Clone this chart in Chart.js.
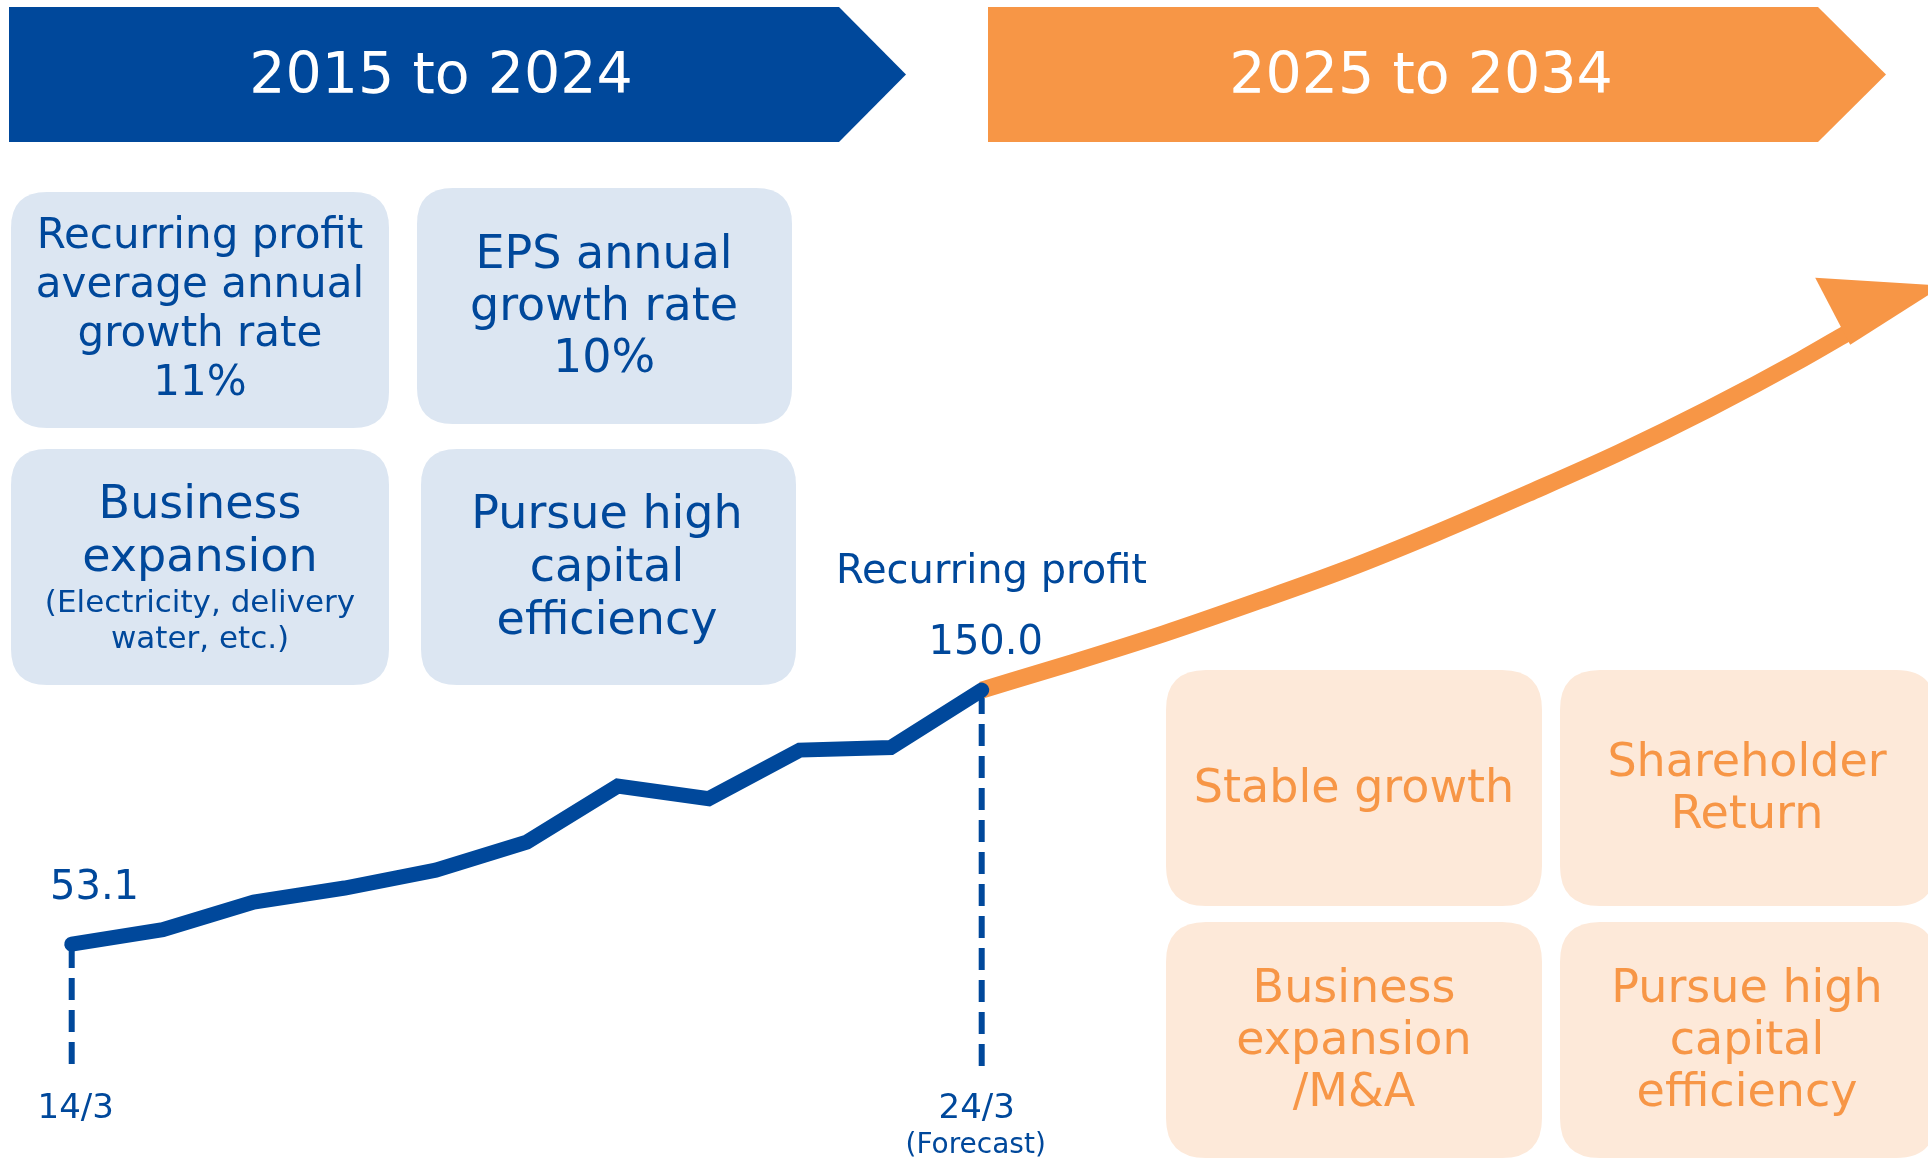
<!DOCTYPE html>
<html>
<head>
<meta charset="utf-8">
<script src="https://cdn.jsdelivr.net/npm/chart.js@4/dist/chart.umd.min.js"></script>
<style>
  html, body { margin: 0; padding: 0; background: #ffffff; }
  #wrap { width: 1928px; height: 1159px; position: relative; }
</style>
</head>
<body>
<div id="wrap"><canvas id="c" width="1928" height="1159"></canvas></div>
<script>
// ---- data ----
const fiscalYears = ['14/3', '15/3', '16/3', '17/3', '18/3', '19/3', '20/3', '21/3', '22/3', '23/3', '24/3'];
const recurringProfit = [53.1, 58.6, 69.1, 74.5, 81.3, 92.0, 113.4, 108.6, 127.1, 128.1, 150.0];
const outlookX = [10, 11, 12, 13, 14, 15, 16, 17, 18, 19, 19.5];
const outlookProfit = [150.0, 160.5, 171.5, 183.5, 196.0, 210.0, 225.0, 240.5, 257.5, 276.0, 286.0];
const periodLabels = ['2015 to 2024', '2025 to 2034'];
const pastBoxes = [
  ['Recurring profit', 'average annual', 'growth rate', '11%'],
  ['EPS annual', 'growth rate', '10%'],
  ['Business', 'expansion'],
  ['Pursue high', 'capital', 'efficiency']
];
const pastBoxNote = ['(Electricity, delivery', 'water, etc.)'];
const futureBoxes = [
  ['Stable growth'],
  ['Shareholder', 'Return'],
  ['Business', 'expansion', '/M&A'],
  ['Pursue high', 'capital', 'efficiency']
];
const seriesName = 'Recurring profit';
const forecastNote = '(Forecast)';

// ---- styles ----
const BLUE = '#00489B';
const ORANGE = '#F79646';
const BLUE_FILL = '#DCE6F2';
const ORANGE_FILL = '#FDE9D9';
const FONT = "'DejaVu Sans', Verdana, sans-serif";

function roundRect(ctx, x, y, w, h, r) {
  ctx.beginPath();
  ctx.moveTo(x + r, y);
  ctx.lineTo(x + w - r, y);
  ctx.quadraticCurveTo(x + w, y, x + w, y + r);
  ctx.lineTo(x + w, y + h - r);
  ctx.quadraticCurveTo(x + w, y + h, x + w - r, y + h);
  ctx.lineTo(x + r, y + h);
  ctx.quadraticCurveTo(x, y + h, x, y + h - r);
  ctx.lineTo(x, y + r);
  ctx.quadraticCurveTo(x, y, x + r, y);
  ctx.closePath();
}
function lines(ctx, arr, cx, yStart, step, size, color) {
  ctx.font = size + 'px ' + FONT;
  ctx.fillStyle = color;
  ctx.textAlign = 'center';
  ctx.textBaseline = 'middle';
  arr.forEach((t, i) => ctx.fillText(t, cx, yStart + i * step));
}
function chevron(ctx, x0, x1, tip, top, bottom, color) {
  ctx.beginPath();
  ctx.moveTo(x0, top);
  ctx.lineTo(x1, top);
  ctx.lineTo(tip, (top + bottom) / 2);
  ctx.lineTo(x1, bottom);
  ctx.lineTo(x0, bottom);
  ctx.closePath();
  ctx.fillStyle = color;
  ctx.fill();
}

const decor = {
  id: 'decor',
  beforeDatasetsDraw(chart) {
    const ctx = chart.ctx;
    const xs = chart.scales.x, ys = chart.scales.y;
    ctx.save();
    // banners
    chevron(ctx, 9, 839, 906, 7, 142, BLUE);
    chevron(ctx, 988, 1818, 1886, 7, 142, ORANGE);
    ctx.font = '57px ' + FONT;
    ctx.fillStyle = '#ffffff';
    ctx.textAlign = 'center';
    ctx.textBaseline = 'middle';
    ctx.fillText(periodLabels[0], 441, 78);
    ctx.fillText(periodLabels[1], 1421, 78);

    // past boxes
    ctx.fillStyle = BLUE_FILL;
    roundRect(ctx, 11, 192, 378, 236, 36); ctx.fill();
    roundRect(ctx, 417, 188, 375, 236, 36); ctx.fill();
    roundRect(ctx, 11, 449, 378, 236, 36); ctx.fill();
    roundRect(ctx, 421, 449, 375, 236, 36); ctx.fill();
    lines(ctx, pastBoxes[0], 200, 237, 49, 42, BLUE);
    lines(ctx, pastBoxes[1], 604, 256, 52, 46, BLUE);
    lines(ctx, pastBoxes[2], 200, 506, 53, 46, BLUE);
    lines(ctx, pastBoxNote, 200, 604, 36, 31, BLUE);
    lines(ctx, pastBoxes[3], 607, 516, 53, 46, BLUE);

    // future boxes
    ctx.fillStyle = ORANGE_FILL;
    roundRect(ctx, 1166, 670, 376, 236, 40); ctx.fill();
    roundRect(ctx, 1560, 670, 376, 236, 40); ctx.fill();
    roundRect(ctx, 1166, 922, 376, 236, 40); ctx.fill();
    roundRect(ctx, 1560, 922, 376, 236, 40); ctx.fill();
    lines(ctx, futureBoxes[0], 1354, 790, 52, 46, ORANGE);
    lines(ctx, futureBoxes[1], 1747, 764, 52, 46, ORANGE);
    lines(ctx, futureBoxes[2], 1354, 990, 52, 46, ORANGE);
    lines(ctx, futureBoxes[3], 1747, 990, 52, 46, ORANGE);

    // dashed drop lines
    const last = recurringProfit.length - 1;
    ctx.strokeStyle = BLUE;
    ctx.lineWidth = 6;
    ctx.setLineDash([22, 10]);
    [0, last].forEach(i => {
      const px = xs.getPixelForValue(i);
      const py = ys.getPixelForValue(recurringProfit[i]);
      ctx.beginPath();
      ctx.moveTo(px, py + 2);
      ctx.lineTo(px, 1073);
      ctx.stroke();
    });
    ctx.setLineDash([]);

    // axis labels
    ctx.font = '34px ' + FONT;
    ctx.fillStyle = BLUE;
    ctx.textAlign = 'center';
    ctx.textBaseline = 'middle';
    ctx.fillText(fiscalYears[0], xs.getPixelForValue(0) + 4, 1109);
    ctx.fillText(fiscalYears[last], xs.getPixelForValue(last) - 5, 1109);
    ctx.font = '28px ' + FONT;
    ctx.fillText(forecastNote, xs.getPixelForValue(last) - 6, 1146);
    ctx.restore();
  },
  afterDatasetsDraw(chart) {
    const ctx = chart.ctx;
    const xs = chart.scales.x, ys = chart.scales.y;
    ctx.save();
    // arrow head at the end of the outlook curve
    const n = outlookX.length - 1;
    const ex = xs.getPixelForValue(outlookX[n]);
    const ey = ys.getPixelForValue(outlookProfit[n]);
    ctx.fillStyle = ORANGE;
    ctx.beginPath();
    ctx.moveTo(ex - 31, ey - 56);
    ctx.lineTo(ex + 97, ey - 48);
    ctx.lineTo(ex + 4, ey + 11);
    ctx.closePath();
    ctx.fill();

    // value labels
    const last = recurringProfit.length - 1;
    ctx.fillStyle = BLUE;
    ctx.font = '40px ' + FONT;
    ctx.textBaseline = 'middle';
    ctx.textAlign = 'left';
    ctx.fillText(recurringProfit[0].toFixed(1), 50, 889);
    ctx.textAlign = 'center';
    ctx.fillText(recurringProfit[last].toFixed(1), xs.getPixelForValue(last) + 4, 644);
    ctx.textAlign = 'left';
    ctx.fillText(seriesName, 836, 573);
    ctx.restore();
  }
};

new Chart(document.getElementById('c'), {
  type: 'line',
  data: {
    datasets: [
      {
        label: seriesName,
        data: recurringProfit.map((v, i) => ({ x: i, y: v })),
        borderColor: BLUE,
        borderWidth: 15,
        borderCapStyle: 'round',
        borderJoinStyle: 'miter',
        pointRadius: 0,
        tension: 0,
        fill: false
      },
      {
        label: 'Outlook',
        data: outlookX.map((x, i) => ({ x: x, y: outlookProfit[i] })),
        borderColor: ORANGE,
        borderWidth: 17,
        borderCapStyle: 'butt',
        pointRadius: 0,
        cubicInterpolationMode: 'monotone',
        fill: false
      }
    ]
  },
  options: {
    responsive: false,
    animation: false,
    devicePixelRatio: 1,
    layout: { padding: 0 },
    plugins: { legend: { display: false }, tooltip: { enabled: false }, title: { display: false } },
    scales: {
      x: { type: 'linear', display: false, min: -0.788, max: 20.399 },
      y: { type: 'linear', display: false, min: -28.9, max: 413.3 }
    }
  },
  plugins: [decor]
});
</script>
</body>
</html>
